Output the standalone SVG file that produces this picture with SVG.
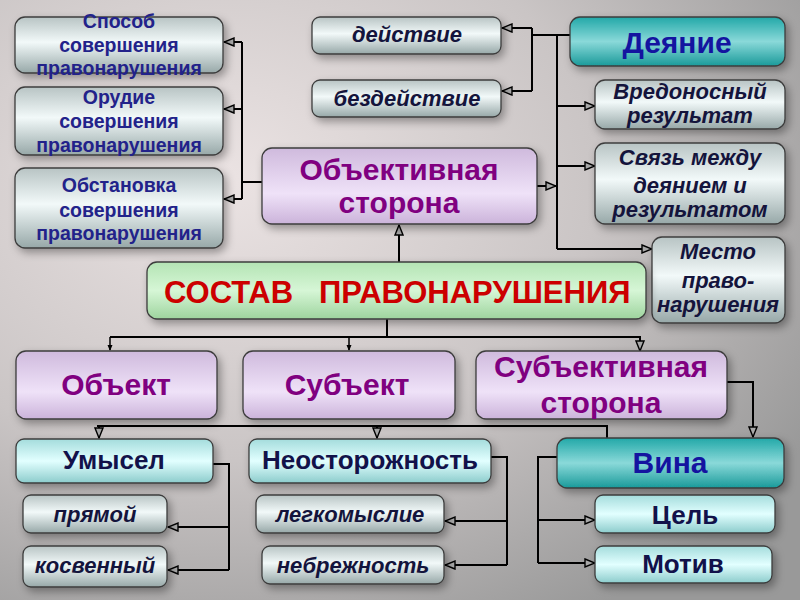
<svg xmlns="http://www.w3.org/2000/svg" width="800" height="600" viewBox="0 0 800 600">
<defs>
<radialGradient id="bg" cx="28%" cy="30%" r="85%">
<stop offset="0" stop-color="#ebe3e3"/>
<stop offset="0.55" stop-color="#cac5c5"/>
<stop offset="1" stop-color="#999999"/>
</radialGradient>
<linearGradient id="gGray" x1="0" y1="0" x2="0" y2="1">
<stop offset="0" stop-color="#b8c4c4"/>
<stop offset="0.45" stop-color="#f2f9f9"/>
<stop offset="1" stop-color="#97a8a8"/>
</linearGradient>
<linearGradient id="gPurple" x1="0" y1="0" x2="0" y2="1">
<stop offset="0" stop-color="#cfbadd"/>
<stop offset="0.6" stop-color="#efe2f8"/>
<stop offset="1" stop-color="#cbb3da"/>
</linearGradient>
<linearGradient id="gTeal" x1="0" y1="0" x2="0" y2="1">
<stop offset="0" stop-color="#22a8a8"/>
<stop offset="0.5" stop-color="#8ad9d9"/>
<stop offset="1" stop-color="#199a9a"/>
</linearGradient>
<linearGradient id="gCyan" x1="0" y1="0" x2="0" y2="1">
<stop offset="0" stop-color="#a4dcdc"/>
<stop offset="0.5" stop-color="#e2ffff"/>
<stop offset="1" stop-color="#8ccccc"/>
</linearGradient>
<linearGradient id="gGreen" x1="0" y1="0" x2="0" y2="1">
<stop offset="0" stop-color="#b4e4b4"/>
<stop offset="0.5" stop-color="#d6f6d6"/>
<stop offset="1" stop-color="#9ed49e"/>
</linearGradient>
<filter id="sh" x="-10%" y="-20%" width="130%" height="160%">
<feDropShadow dx="3" dy="4" stdDeviation="4" flood-color="#000" flood-opacity="0.35"/>
</filter>
<marker id="arr" viewBox="0 0 12 10" refX="11" refY="5" markerWidth="12" markerHeight="10" markerUnits="userSpaceOnUse" orient="auto">
<path d="M1,1 L11,5 L1,9 Z" fill="#a8a8a8" stroke="#000" stroke-width="1.4"/>
</marker>
<marker id="sm" viewBox="0 0 6 6" refX="5" refY="3" markerWidth="6" markerHeight="6" markerUnits="userSpaceOnUse" orient="auto">
<path d="M0,0.5 L6,3 L0,5.5 Z" fill="#000"/>
</marker>
<style>
.box{stroke:#3c3c3c;stroke-width:1.3;filter:url(#sh)}
.gray{fill:url(#gGray)}
.purple{fill:url(#gPurple)}
.teal{fill:url(#gTeal)}
.cyan{fill:url(#gCyan)}
.green{fill:url(#gGreen)}
text{font-family:"Liberation Sans",Arial,sans-serif;font-weight:bold;text-anchor:middle}
.t18{font-size:19.5px;fill:#22228a}
.it{font-size:22px;font-style:italic;fill:#14143c}
.big{font-size:30px;fill:#800080}
.blue{font-size:30px;fill:#1414a0}
.navy{font-size:26px;fill:#12124a}
.red{font-size:31px;fill:#cc0000;text-anchor:start}
.ln{fill:none;stroke:#000;stroke-width:2}
</style>
</defs>
<rect width="800" height="600" fill="url(#bg)"/>

<g id="connectors">
<path class="ln" d="M262,182 H242 M242,42 V199"/>
<path class="ln" d="M242,42 H224" marker-end="url(#arr)"/>
<path class="ln" d="M242,109 H224" marker-end="url(#arr)"/>
<path class="ln" d="M242,199 H224" marker-end="url(#arr)"/>
<path class="ln" d="M570,35 H532 M532,28 V91"/>
<path class="ln" d="M532,28 H502" marker-end="url(#arr)"/>
<path class="ln" d="M532,91 H502" marker-end="url(#arr)"/>
<path class="ln" d="M557,35 V249"/>
<path class="ln" d="M557,106 H595" marker-end="url(#arr)"/>
<path class="ln" d="M557,166 H595" marker-end="url(#arr)"/>
<path class="ln" d="M557,249 H652" marker-end="url(#arr)"/>
<path class="ln" d="M537,186 H556" marker-end="url(#arr)"/>
<path class="ln" d="M399,262 V225" marker-end="url(#arr)"/>
<path class="ln" d="M387,319 V337 M110,337 H640"/>
<path class="ln" d="M110,337 V350" marker-end="url(#sm)" style="stroke-width:1.5"/>
<path class="ln" d="M349,337 V350" marker-end="url(#sm)" style="stroke-width:1.5"/>
<path class="ln" d="M640,336 V351" marker-end="url(#arr)"/>
<path class="ln" d="M727,382 H753 V437" marker-end="url(#arr)"/>
<path class="ln" d="M97,426 H607 V438"/>
<path class="ln" d="M99,426 V438" marker-end="url(#arr)"/>
<path class="ln" d="M377,426 V438" marker-end="url(#arr)"/>
<path class="ln" d="M213,464 H229 V570"/>
<path class="ln" d="M229,527 H168" marker-end="url(#arr)"/>
<path class="ln" d="M229,570 H168" marker-end="url(#arr)"/>
<path class="ln" d="M491,457 H507 V565"/>
<path class="ln" d="M507,521 H445" marker-end="url(#arr)"/>
<path class="ln" d="M507,565 H445" marker-end="url(#arr)"/>
<path class="ln" d="M557,457 H538 V563"/>
<path class="ln" d="M538,520 H595" marker-end="url(#arr)"/>
<path class="ln" d="M538,563 H595" marker-end="url(#arr)"/>
</g>

<g id="sposob">
<rect class="box gray" x="15" y="17" width="208" height="56" rx="10"/>
<text class="t18" x="119" y="28">Способ</text>
<text class="t18" x="119" y="52">совершения</text>
<text class="t18" x="119" y="75">правонарушения</text>
</g>
<g id="orudie">
<rect class="box gray" x="15" y="87" width="208" height="68" rx="10"/>
<text class="t18" x="119" y="104">Орудие</text>
<text class="t18" x="119" y="128">совершения</text>
<text class="t18" x="119" y="152">правонарушения</text>
</g>
<g id="obstanovka">
<rect class="box gray" x="15" y="168" width="208" height="80" rx="10"/>
<text class="t18" x="119" y="192">Обстановка</text>
<text class="t18" x="119" y="217">совершения</text>
<text class="t18" x="119" y="240">правонарушения</text>
</g>
<g id="deistvie">
<rect class="box gray" x="312" y="17" width="189" height="37" rx="8"/>
<text class="it" x="407" y="42">действие</text>
</g>
<g id="bezdeistvie">
<rect class="box gray" x="312" y="80" width="189" height="37" rx="8"/>
<text class="it" x="407" y="106">бездействие</text>
</g>
<g id="obektivnaya">
<rect class="box purple" x="262" y="148" width="275" height="76" rx="10"/>
<text class="big" x="399" y="180">Объективная</text>
<text class="big" x="399" y="213">сторона</text>
</g>
<g id="deyanie">
<rect class="box teal" x="570" y="17" width="215" height="49" rx="10"/>
<text class="blue" x="677" y="53">Деяние</text>
</g>
<g id="vredonosny">
<rect class="box gray" x="595" y="80" width="190" height="49" rx="10"/>
<text class="it" x="690" y="99">Вредоносный</text>
<text class="it" x="690" y="123">результат</text>
</g>
<g id="svyaz">
<rect class="box gray" x="595" y="143" width="190" height="81" rx="10"/>
<text class="it" x="690" y="165">Связь между</text>
<text class="it" x="690" y="193">деянием и</text>
<text class="it" x="690" y="217">результатом</text>
</g>
<g id="mesto">
<rect class="box gray" x="652" y="237" width="133" height="86" rx="10"/>
<text class="it" x="718" y="259">Место</text>
<text class="it" x="718" y="288">право-</text>
<text class="it" x="718" y="312">нарушения</text>
</g>
<g id="sostav">
<rect class="box green" x="147" y="262" width="499" height="57" rx="10"/>
<text class="red" x="164" y="303">СОСТАВ</text>
<text class="red" x="319" y="303">ПРАВОНАРУШЕНИЯ</text>
</g>
<g id="obekt">
<rect class="box purple" x="16" y="351" width="201" height="68" rx="10"/>
<text class="big" x="116" y="395">Объект</text>
</g>
<g id="subekt">
<rect class="box purple" x="243" y="351" width="212" height="68" rx="10"/>
<text class="big" x="347" y="395">Субъект</text>
</g>
<g id="subektivnaya">
<rect class="box purple" x="476" y="351" width="251" height="68" rx="10"/>
<text class="big" x="601" y="377">Субъективная</text>
<text class="big" x="601" y="413">сторона</text>
</g>
<g id="umysel">
<rect class="box cyan" x="16" y="439" width="197" height="44" rx="8"/>
<text class="navy" x="114" y="469">Умысел</text>
</g>
<g id="neostorozhnost">
<rect class="box cyan" x="249" y="439" width="242" height="44" rx="8"/>
<text class="navy" x="370" y="469">Неосторожность</text>
</g>
<g id="vina">
<rect class="box teal" x="557" y="438" width="227" height="50" rx="10"/>
<text class="blue" x="670" y="473">Вина</text>
</g>
<g id="pryamoy">
<rect class="box gray" x="23" y="495" width="144" height="38" rx="8"/>
<text class="it" x="95" y="522">прямой</text>
</g>
<g id="kosvenny">
<rect class="box gray" x="23" y="546" width="144" height="41" rx="8"/>
<text class="it" x="95" y="573">косвенный</text>
</g>
<g id="legkomyslie">
<rect class="box gray" x="256" y="495" width="188" height="38" rx="8"/>
<text class="it" x="350" y="522">легкомыслие</text>
</g>
<g id="nebrezhnost">
<rect class="box gray" x="262" y="546" width="182" height="38" rx="8"/>
<text class="it" x="353" y="573">небрежность</text>
</g>
<g id="cel">
<rect class="box cyan" x="595" y="495" width="180" height="38" rx="8"/>
<text class="navy" x="685" y="524">Цель</text>
</g>
<g id="motiv">
<rect class="box cyan" x="595" y="546" width="177" height="37" rx="8"/>
<text class="navy" x="683" y="573">Мотив</text>
</g>
</svg>
